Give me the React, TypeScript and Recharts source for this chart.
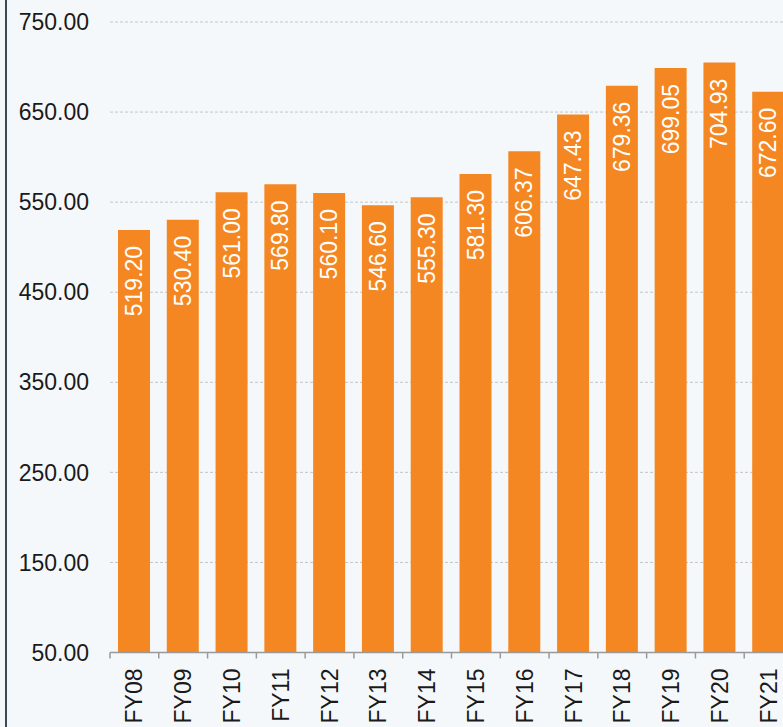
import { BarChart, Bar, XAxis, YAxis, CartesianGrid, LabelList } from 'recharts';

const YEARS = ['FY08', 'FY09', 'FY10', 'FY11', 'FY12', 'FY13', 'FY14', 'FY15', 'FY16', 'FY17', 'FY18', 'FY19', 'FY20', 'FY21'];
const VALUES = [519.2, 530.4, 561.0, 569.8, 560.1, 546.6, 555.3, 581.3, 606.37, 647.43, 679.36, 699.05, 704.93, 672.6];
const Y_TICKS = [50, 150, 250, 350, 450, 550, 650, 750];

const BAR_COLOR = '#f48722';
const TEXT_COLOR = '#1a1a1a';
const FONT = 'Arial, "Liberation Sans", sans-serif';

const data = YEARS.map((year, i) => ({ year, value: VALUES[i] }));

// category tick: label rotated, tick mark sits on the band edge
const XTick = (props: any) => {
  const { x, y, payload } = props;
  const half = payload?.offset || 24.4;
  return (
    <g>
      <line x1={x - half} y1={y - 8} x2={x - half} y2={y - 2} stroke='#999' strokeWidth={1.5} />
      <text
        x={x}
        y={y + 8}
        dy='0.35em'
        transform={`rotate(-90, ${x}, ${y + 8})`}
        textAnchor='end'
        fontSize={23}
        fontFamily={FONT}
        fill={TEXT_COLOR}
      >
        {payload.value}
      </text>
    </g>
  );
};

const ValueLabel = (props: any) => {
  const { x, y, width, value } = props;
  const cx = x + width / 2;
  const ty = y + 16;
  return (
    <text
      x={cx}
      y={ty}
      dy='0.35em'
      transform={`rotate(-90, ${cx}, ${ty})`}
      textAnchor='end'
      fontSize={23}
      fontFamily={FONT}
      fill='#fff'
    >
      {Number(value).toFixed(2)}
    </text>
  );
};

export default function App() {
  return (
    <div
      style={{
        position: 'fixed',
        left: 0,
        top: 0,
        width: 783,
        height: 727,
        overflow: 'hidden',
        background: '#f5f8fa',
      }}
    >
      <div style={{ position: 'absolute', left: 5, top: 0, bottom: 0, width: 1.5, background: '#3b4a55' }} />
      <BarChart
        width={800}
        height={780}
        data={data}
        margin={{ top: 22, right: 7, left: 0, bottom: 0 }}
        barSize={32}
      >
        <CartesianGrid vertical={false} stroke='#c4c4c4' strokeDasharray='3 2' />
        <XAxis
          dataKey='year'
          height={127.5}
          interval={0}
          tickLine={false}
          axisLine={{ stroke: '#999', strokeWidth: 1.5 }}
          tick={<XTick />}
        />
        <YAxis
          width={110}
          domain={[50, 750]}
          ticks={Y_TICKS}
          interval={0}
          axisLine={false}
          tickLine={false}
          tickSize={0}
          tickMargin={21}
          tickFormatter={(v: number) => v.toFixed(2)}
          tick={{ fontSize: 23, fill: TEXT_COLOR, fontFamily: FONT }}
        />
        <Bar dataKey='value' fill={BAR_COLOR} isAnimationActive={false}>
          <LabelList dataKey='value' content={<ValueLabel />} />
        </Bar>
      </BarChart>
    </div>
  );
}
